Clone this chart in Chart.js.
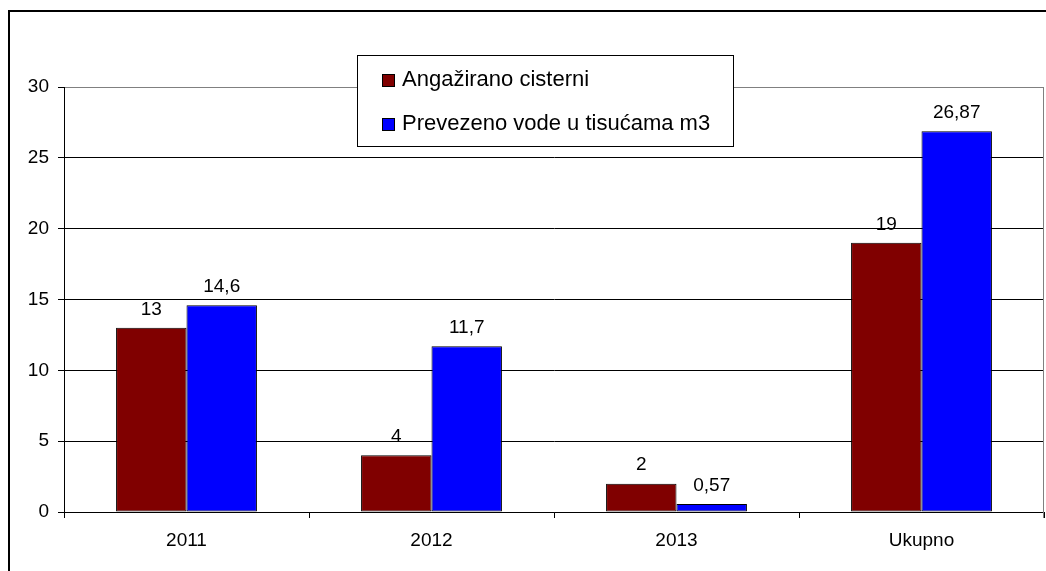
<!DOCTYPE html>
<html lang="hr">
<head>
    <meta charset="UTF-8">
    <title>Angažirano cisterni / Prevezeno vode</title>
    <script src="https://cdn.jsdelivr.net/npm/chart.js"></script>
    <style>
        html, body {
            margin: 0;
            padding: 0;
            background: #fff;
        }
        #wrap {
            width: 1046px;
            height: 571px;
        }
    </style>
</head>
<body>
    <div id="wrap"><canvas id="chart" width="1046" height="571"></canvas></div>

    <script>
        const categories = ['2011', '2012', '2013', 'Ukupno'];
        const cisterne = [13, 4, 2, 19];
        const voda = [14.6, 11.7, 0.57, 26.87];
        const seriesNames = ['Angažirano cisterni', 'Prevezeno vode u tisućama m3'];
        const seriesColors = ['#800000', '#0000ff'];
        const yTicks = [0, 5, 10, 15, 20, 25, 30];

        const font = '"Liberation Sans", Arial, sans-serif';

        function fmt(v) {
            return String(v).replace('.', ',');
        }

        // outer frame, right plot border, value labels and the legend box
        const extras = {
            id: 'extras',
            beforeDraw(chart) {
                const c = chart.ctx;
                c.save();
                c.fillStyle = '#fff';
                c.fillRect(0, 0, chart.width, chart.height);
                c.strokeStyle = '#000';
                c.lineWidth = 2;
                c.beginPath();
                c.moveTo(9, chart.height + 2);
                c.lineTo(9, 11);
                c.lineTo(chart.width + 2, 11);
                c.stroke();
                c.restore();
            },
            afterDatasetsDraw(chart) {
                const c = chart.ctx;
                const a = chart.chartArea;
                c.save();
                c.strokeStyle = '#808080';
                c.lineWidth = 1;
                c.beginPath();
                c.moveTo(a.right - 0.5, a.top);
                c.lineTo(a.right - 0.5, a.bottom + 6);
                c.stroke();

                c.fillStyle = '#000';
                c.font = '19px ' + font;
                c.textAlign = 'center';
                c.textBaseline = 'bottom';
                chart.data.datasets.forEach((ds, i) => {
                    chart.getDatasetMeta(i).data.forEach((bar, j) => {
                        c.fillText(fmt(ds.data[j]), bar.x, bar.y - 9);
                    });
                });

                // legend
                const lx = 357, ly = 55, lw = 376, lh = 91;
                c.fillStyle = '#fff';
                c.fillRect(lx, ly, lw, lh);
                c.strokeStyle = '#000';
                c.strokeRect(lx + 0.5, ly + 0.5, lw, lh);
                c.font = '22px ' + font;
                c.textAlign = 'left';
                c.textBaseline = 'middle';
                chart.data.datasets.forEach((ds, i) => {
                    const cy = 80 + i * 44;
                    c.fillStyle = ds.backgroundColor;
                    c.fillRect(382, cy - 6, 12, 12);
                    c.strokeStyle = '#000';
                    c.strokeRect(382.5, cy - 5.5, 12, 12);
                    c.fillStyle = '#000';
                    c.fillText(ds.label, 402, cy);
                });
                c.restore();
            }
        };

        new Chart(document.getElementById('chart'), {
            type: 'bar',
            data: {
                labels: categories,
                datasets: [
                    {
                        label: seriesNames[0],
                        data: cisterne,
                        backgroundColor: seriesColors[0],
                        borderColor: '#000',
                        borderWidth: 1,
                        borderSkipped: false
                    },
                    {
                        label: seriesNames[1],
                        data: voda,
                        backgroundColor: seriesColors[1],
                        borderColor: '#000',
                        borderWidth: 1,
                        borderSkipped: false
                    }
                ]
            },
            options: {
                responsive: false,
                animation: false,
                devicePixelRatio: 1,
                categoryPercentage: 0.575,
                barPercentage: 1,
                layout: {
                    padding: { left: 0, right: 2, top: 87, bottom: 0 }
                },
                plugins: {
                    legend: { display: false },
                    tooltip: { enabled: false }
                },
                scales: {
                    x: {
                        grid: {
                            offset: true,
                            drawOnChartArea: false,
                            tickLength: 6,
                            tickColor: '#000'
                        },
                        border: { color: '#000', width: 1 },
                        ticks: {
                            color: '#000',
                            font: { family: font, size: 19 },
                            padding: 11
                        },
                        afterFit(scale) { scale.height = 59; }
                    },
                    y: {
                        min: 0,
                        max: 30,
                        afterBuildTicks(scale) {
                            scale.ticks = yTicks.map(v => ({ value: v }));
                        },
                        grid: {
                            color: ctx => ctx.tick && ctx.tick.value === 30 ? '#808080' : '#000',
                            tickColor: '#000',
                            tickLength: 6
                        },
                        border: { color: '#000', width: 1 },
                        ticks: {
                            color: '#000',
                            font: { family: font, size: 19 },
                            padding: 9
                        },
                        afterFit(scale) { scale.width = 64; }
                    }
                }
            },
            plugins: [extras]
        });
    </script>
</body>
</html>
